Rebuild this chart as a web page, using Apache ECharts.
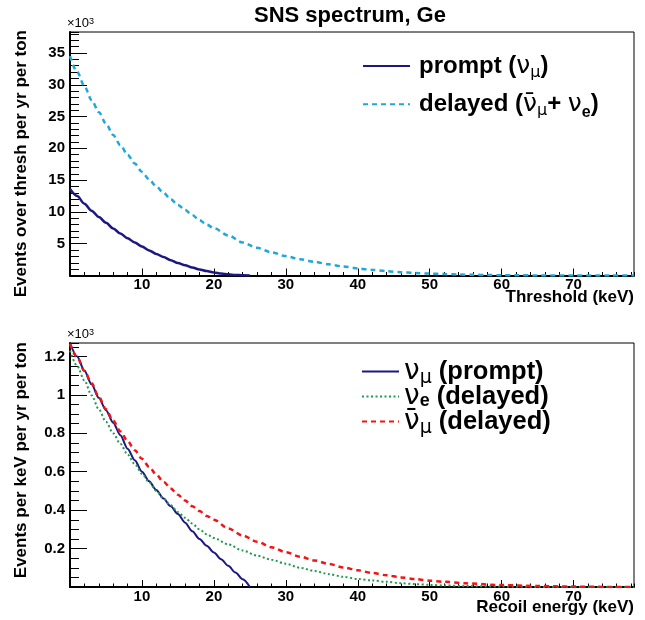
<!DOCTYPE html>
<html><head><meta charset="utf-8">
<script src="https://cdn.jsdelivr.net/npm/echarts@6/dist/echarts.min.js"></script>
<style>html,body{margin:0;padding:0;background:#fff}#c{width:645px;height:620px}</style>
</head><body><div id="c"></div>
<script>
// ---------- data (values in units of 10^3) ----------
const titleText = 'SNS spectrum, Ge';

// top panel: events over threshold
const promptThreshKeV = [0,1,2,3,4,5,6,7,8,9,10,11,12,13,14,15,16,17,18,19,20,21,22,23,24,25];
const promptOverThresh = [13.6,12.5,11.3,10.2,9.2,8.3,7.4,6.6,5.85,5.2,4.55,3.95,3.4,2.9,2.4,1.95,1.6,1.25,0.95,0.7,0.47,0.3,0.18,0.09,0.03,0.0];

const delayedThreshKeV = [0,1,2,3,4,5,6,7,8,9,10,11,12,13,14,15,16,17,18,19,20,22,24,26,28,30,32,34,36,38,40,42,44,46,48,50,52,54,56,58,60,62,65,70,75,78.4];
const delayedOverThresh = [34.5,32.0,29.8,27.6,25.7,23.9,22.1,20.5,19.0,17.6,16.3,15.1,14.0,13.0,12.0,11.1,10.3,9.5,8.7,8.0,7.45,6.3,5.2,4.35,3.65,3.05,2.55,2.15,1.75,1.42,1.12,0.88,0.68,0.52,0.4,0.3,0.22,0.16,0.11,0.075,0.05,0.03,0.015,0.004,0.001,0];

// bottom panel: recoil spectra
const numuRecoilKeV = [0,1,2,3,4,5,6,7,8,9,10,11,12,13,14,15,16,17,18,19,20,21,22,23,24,25];
const numuPerKeV = [1.27,1.2,1.125,1.055,0.985,0.92,0.855,0.79,0.72,0.66,0.6,0.55,0.505,0.46,0.42,0.38,0.335,0.29,0.25,0.215,0.18,0.145,0.11,0.075,0.04,0.0];

const nueRecoilKeV = [0,1,2,3,4,5,6,7,8,9,10,11,12,13,14,15,16,17,18,19,20,22,24,26,28,30,32,34,36,38,40,42,44,46,48,50,52,55,60,65,70,78.4];
const nuePerKeV = [1.23,1.15,1.075,0.998,0.925,0.86,0.8,0.745,0.69,0.64,0.59,0.545,0.5,0.46,0.425,0.39,0.36,0.33,0.3,0.275,0.255,0.222,0.19,0.163,0.142,0.121,0.1,0.083,0.067,0.053,0.042,0.034,0.027,0.02,0.015,0.011,0.008,0.005,0.002,0.0005,0.0001,0];

const numubarRecoilKeV = [0,1,2,3,4,5,6,7,8,9,10,11,12,13,14,15,16,17,18,19,20,22,24,26,28,30,32,34,36,38,40,42,44,46,48,50,52,55,60,65,70,75,78.4];
const numubarPerKeV = [1.265,1.195,1.125,1.06,0.99,0.925,0.865,0.81,0.76,0.712,0.667,0.625,0.585,0.548,0.513,0.48,0.45,0.42,0.395,0.37,0.35,0.305,0.268,0.236,0.207,0.181,0.158,0.138,0.12,0.102,0.087,0.073,0.061,0.05,0.041,0.033,0.027,0.019,0.01,0.005,0.002,0.0005,0];

// tick labels
const xTickLabels = [10,20,30,40,50,60,70];
const yTopTickLabels = [5,10,15,20,25,30,35];
const yBottomTickLabels = [0.2,0.4,0.6,0.8,1,1.2];

// ---------- helpers ----------
const zip = (xs, ys) => xs.map((x, i) => [x, ys[i]]);
const FONT = '"Liberation Sans", Arial, Helvetica, sans-serif';
const GREEK = '"DejaVu Sans", "Liberation Sans", sans-serif';
const near = (v, list) => list.some(t => Math.abs(t - v) < 1e-6);

function majorX(gridIndex) {
  return {
    type: 'value', gridIndex, position: 'bottom', min: 0, max: 78.4, interval: 10,
    axisLine: { show: true, onZero: false, lineStyle: { color: '#000', width: 2 } },
    axisTick: { show: true, inside: true, length: 7, lineStyle: { color: '#000', width: 1 } },
    axisLabel: { show: true, margin: 2, color: '#000', fontFamily: FONT, fontWeight: 'bold', fontSize: 15,
      showMinLabel: false, showMaxLabel: false,
      formatter: v => near(v, xTickLabels) ? String(v) : '' },
    splitLine: { show: false }
  };
}
function minorX(gridIndex) {
  return {
    type: 'value', gridIndex, position: 'bottom', min: 0, max: 78.4, interval: 2,
    axisLine: { show: false, onZero: false }, axisLabel: { show: false }, splitLine: { show: false },
    axisTick: { show: true, inside: true, length: 3.5, lineStyle: { color: '#000', width: 1 } }
  };
}
function majorY(gridIndex, max, interval, labels) {
  return {
    type: 'value', gridIndex, position: 'left', min: 0, max, interval,
    name: '{x|×}{n|10}{sup|3}', nameLocation: 'end', nameGap: 2,
    nameTextStyle: { align: 'left', verticalAlign: 'bottom', padding: [0, 0, 0, -3], color: '#000',
      rich: {
        x: { fontFamily: FONT, fontSize: 13, color: '#000' },
        n: { fontFamily: FONT, fontSize: 13, color: '#000' },
        sup: { fontFamily: FONT, fontSize: 9, color: '#000', verticalAlign: 'top' }
      } },
    axisLine: { show: true, onZero: false, lineStyle: { color: '#000', width: 2 } },
    axisTick: { show: true, inside: true, length: 17, lineStyle: { color: '#000', width: 1 } },
    axisLabel: { show: true, margin: 5, color: '#000', fontFamily: FONT, fontWeight: 'bold', fontSize: 15,
      showMinLabel: false, showMaxLabel: false,
      formatter: v => near(v, labels) ? String(+v.toFixed(2)) : '' },
    splitLine: { show: false }
  };
}
function minorY(gridIndex, max, interval) {
  return {
    type: 'value', gridIndex, position: 'left', min: 0, max, interval,
    axisLine: { show: false, onZero: false }, axisLabel: { show: false }, splitLine: { show: false },
    axisTick: { show: true, inside: true, length: 9, lineStyle: { color: '#000', width: 1 } }
  };
}

const NAVY = '#1c1880', CYAN = '#1ea8d8', GREEN = '#1f9a50', RED = '#f21414';

const richTop = {
  b0: { fontFamily: FONT, fontWeight: 'bold', fontSize: 24, color: '#000', lineHeight: 32, padding: [0, 0, 0, 4] },
  b: { fontFamily: FONT, fontWeight: 'bold', fontSize: 24, color: '#000', lineHeight: 32 },
  g: { fontFamily: GREEK, fontSize: 25, color: '#000', lineHeight: 32 },
  s: { fontFamily: GREEK, fontSize: 16, color: '#000', lineHeight: 8, verticalAlign: 'top', padding: [15, 0, 0, 0] },
  se: { fontFamily: FONT, fontWeight: 'bold', fontSize: 16, color: '#000', lineHeight: 14, verticalAlign: 'bottom' }
};
const richBottom = {
  b: { fontFamily: FONT, fontWeight: 'bold', fontSize: 25.5, color: '#000', lineHeight: 25 },
  g: { fontFamily: GREEK, fontSize: 28, color: '#000', lineHeight: 25 },
  s: { fontFamily: GREEK, fontSize: 19, color: '#000', lineHeight: 7, verticalAlign: 'top', padding: [10, 0, 0, 0] },
  se: { fontFamily: FONT, fontWeight: 'bold', fontSize: 18, color: '#000', lineHeight: 7, verticalAlign: 'top', padding: [8, 0, 0, 0] }
};
const legendText = {
  prompt: '{b0|prompt (}{g|ν}{s|μ}{b|)}',
  delayed: '{b0|delayed (}{g|ν\u0304}{s|μ}{b|+ }{g|ν}{se|e}{b|)}',
  numu: '{g|ν}{s|μ}{b| (prompt)}',
  nue: '{g|ν}{se|e}{b| (delayed)}',
  numubar: '{g|ν\u0304}{s|μ}{b| (delayed)}'
};

// one legend component per entry so that the spacing matches the reference
function legendItem(name, left, top, itemWidth, rich) {
  return { data: [name], orient: 'vertical', left, top, itemWidth, itemHeight: 14, padding: 0,
    selectedMode: false, itemStyle: { opacity: 0 },
    formatter: n => legendText[n], textStyle: { rich } };
}

const lineSeries = (name, xi, yi, xs, ys, color, width, type) => ({
  name, type: 'line', xAxisIndex: xi, yAxisIndex: yi, data: zip(xs, ys),
  symbol: 'none', showSymbol: false, smooth: 0.3, smoothMonotone: 'x', animation: false,
  lineStyle: { color, width, type }, itemStyle: { color }
});

const option = {
  animation: false,
  backgroundColor: '#fff',
  title: { text: titleText, left: 254, top: 5, padding: 0,
    textStyle: { fontFamily: FONT, fontWeight: 'bold', fontSize: 22, color: '#000' } },
  grid: [
    { left: 70, right: 11, top: 32, height: 243.5, show: true, borderColor: '#000', borderWidth: 1, backgroundColor: 'transparent' },
    { left: 70, right: 11, top: 343, height: 244, show: true, borderColor: '#000', borderWidth: 1, backgroundColor: 'transparent' }
  ],
  xAxis: [majorX(0), minorX(0), majorX(1), minorX(1)],
  yAxis: [majorY(0, 38.3, 5, yTopTickLabels), minorY(0, 38.3, 1),
          majorY(1, 1.27, 0.2, yBottomTickLabels), minorY(1, 1.27, 0.05)],
  legend: [
    legendItem('prompt', 362, 50, 47, richTop),
    legendItem('delayed', 362, 88.3, 47, richTop),
    legendItem('numu', 361, 357.5, 37, richBottom),
    legendItem('nue', 361, 382.5, 37, richBottom),
    legendItem('numubar', 361, 407.5, 37, richBottom)
  ],
  graphic: [
    { type: 'text', x: 21, y: 30, rotation: Math.PI / 2,
      style: { text: 'Events over thresh per yr per ton', fill: '#000', fontFamily: FONT, fontWeight: 'bold', fontSize: 17,
        align: 'right', verticalAlign: 'middle', textAlign: 'right', textVerticalAlign: 'middle' } },
    { type: 'text', x: 21, y: 342, rotation: Math.PI / 2,
      style: { text: 'Events per keV per yr per ton', fill: '#000', fontFamily: FONT, fontWeight: 'bold', fontSize: 17,
        align: 'right', verticalAlign: 'middle', textAlign: 'right', textVerticalAlign: 'middle' } },
    { type: 'text', x: 634, y: 297,
      style: { text: 'Threshold (keV)', fill: '#000', fontFamily: FONT, fontWeight: 'bold', fontSize: 17,
        align: 'right', verticalAlign: 'middle', textAlign: 'right', textVerticalAlign: 'middle' } },
    { type: 'text', x: 634, y: 607,
      style: { text: 'Recoil energy (keV)', fill: '#000', fontFamily: FONT, fontWeight: 'bold', fontSize: 17,
        align: 'right', verticalAlign: 'middle', textAlign: 'right', textVerticalAlign: 'middle' } }
  ],
  series: [
    lineSeries('prompt', 0, 0, promptThreshKeV, promptOverThresh, NAVY, 2.5, 'solid'),
    lineSeries('delayed', 0, 0, delayedThreshKeV, delayedOverThresh, CYAN, 2.5, [5, 4]),
    lineSeries('numu', 2, 2, numuRecoilKeV, numuPerKeV, NAVY, 2, 'solid'),
    lineSeries('nue', 2, 2, nueRecoilKeV, nuePerKeV, GREEN, 2, [2, 2.5]),
    lineSeries('numubar', 2, 2, numubarRecoilKeV, numubarPerKeV, RED, 2.5, [5, 4])
  ]
};
const chart = echarts.init(document.getElementById('c'), null, { renderer: 'canvas' });
chart.setOption(option);
</script></body></html>
